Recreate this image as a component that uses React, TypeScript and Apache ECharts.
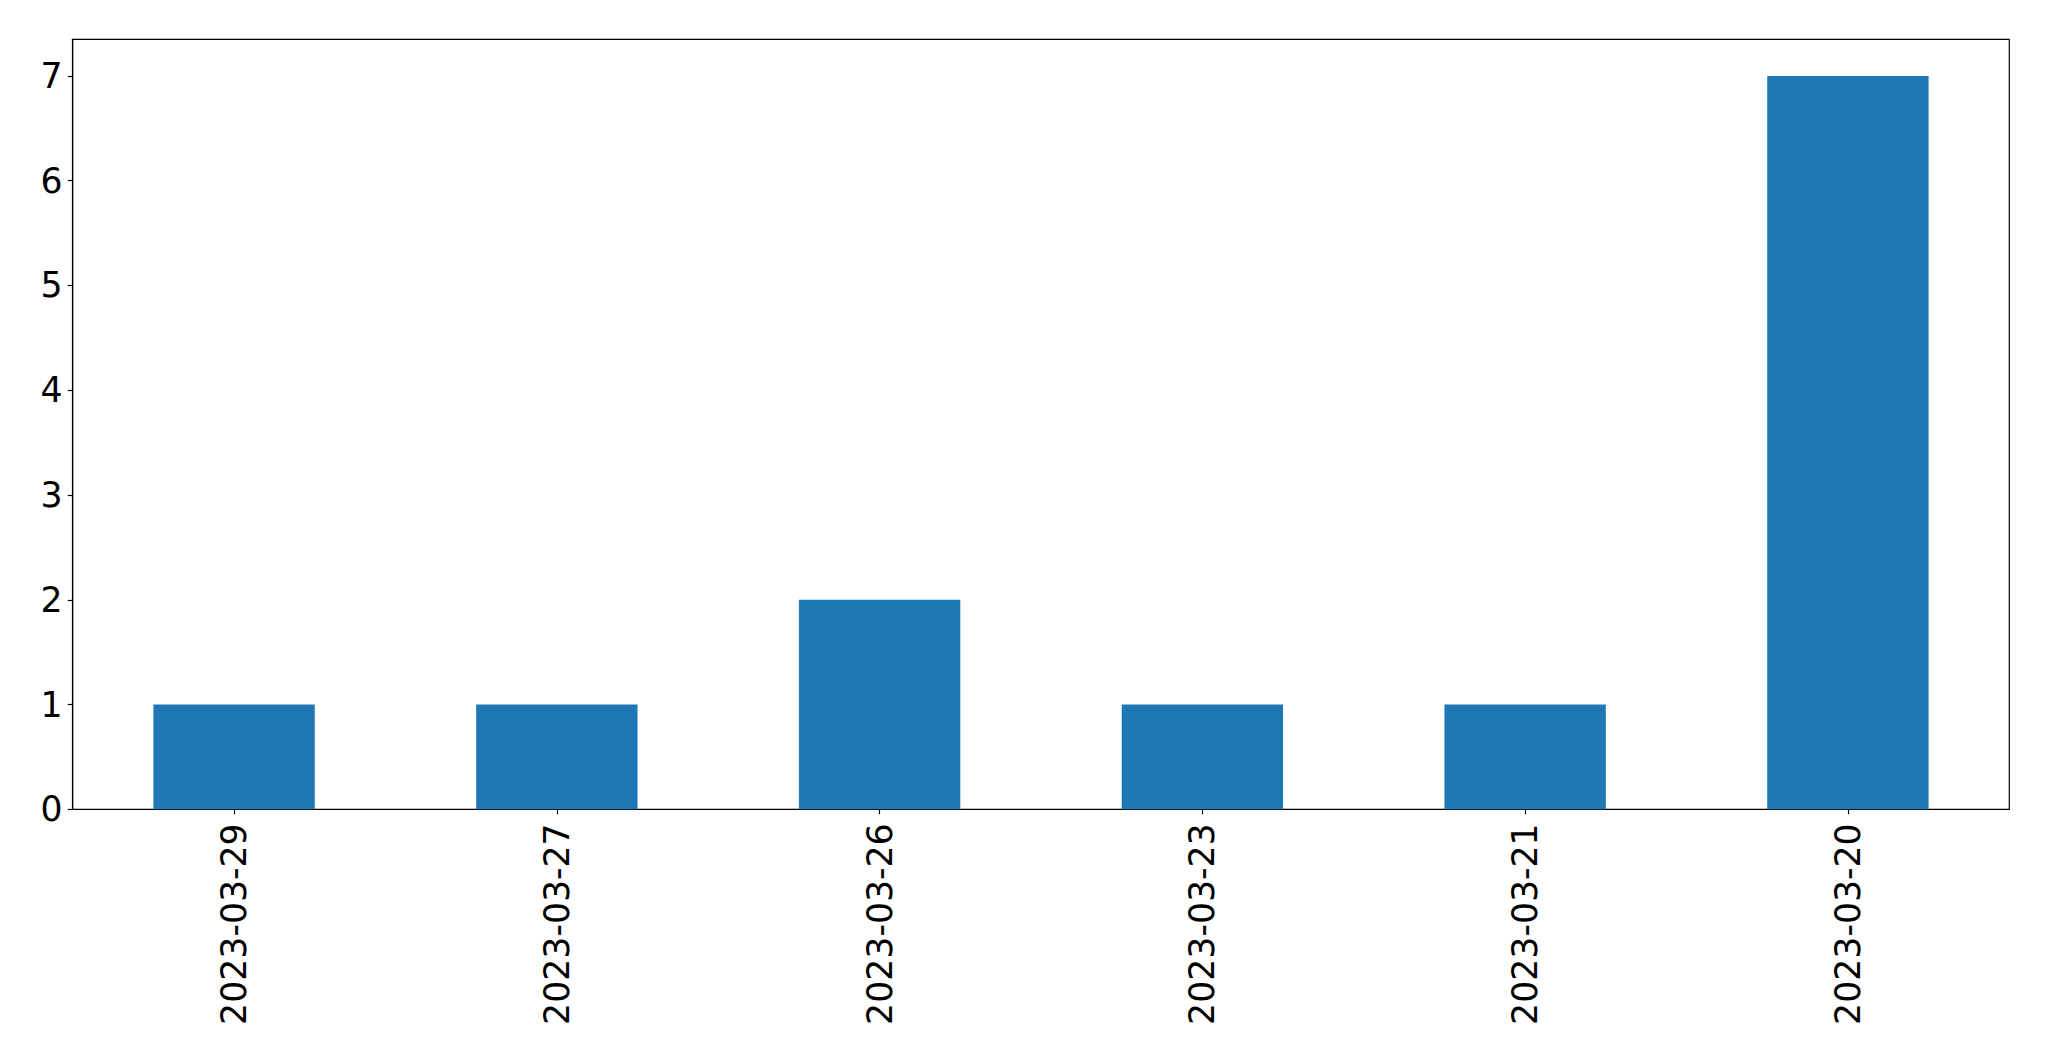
import React, { useEffect, useRef } from "react";
import * as echarts from "echarts";

const categories = ["2023-03-29", "2023-03-27", "2023-03-26", "2023-03-23", "2023-03-21", "2023-03-20"];
const values = [1, 1, 2, 1, 1, 7];
const yMax = 7.35;

export default function App() {
  const ref = useRef<HTMLDivElement>(null);
  useEffect(() => {
    if (!ref.current) return;
    const chart = echarts.init(ref.current, null, { renderer: "svg" });
    const font = "DejaVu Sans";
    chart.setOption({
      animation: false,
      backgroundColor: "#ffffff",
      grid: {
        left: 72.7,
        top: 39.3,
        right: 39.7,
        bottom: 251.7,
        show: true,
        borderColor: "#000000",
        borderWidth: 1.2,
        backgroundColor: "transparent",
      },
      xAxis: {
        type: "category",
        data: categories,
        boundaryGap: true,
        axisLine: { show: true, lineStyle: { color: "#000", width: 1.2 } },
        axisTick: { show: true, alignWithLabel: true, length: 5, lineStyle: { color: "#000", width: 1.2 } },
        axisLabel: {
          rotate: 90,
          fontFamily: font,
          fontSize: 34.7,
          color: "#000",
          margin: 14,
          interval: 0,
        },
        splitLine: { show: false },
      },
      yAxis: {
        type: "value",
        min: 0,
        max: yMax,
        interval: 1,
        axisLine: { show: true, lineStyle: { color: "#000", width: 1.2 } },
        axisTick: { show: true, length: 5, lineStyle: { color: "#000", width: 1.2 } },
        axisLabel: {
          fontFamily: font,
          fontSize: 34.7,
          color: "#000",
          margin: 10,
          showMaxLabel: false,
          formatter: (v: number) => (Number.isInteger(v) ? String(v) : ""),
        },
        splitLine: { show: false },
      },
      series: [
        {
          type: "bar",
          data: values,
          barWidth: "50%",
          itemStyle: { color: "#1f77b4" },
        },
      ],
    });
    return () => chart.dispose();
  }, []);
  return (
    <div
      ref={ref}
      style={{ position: "fixed", left: 0, top: 0, width: 2049, height: 1061, background: "#fff" }}
    />
  );
}
